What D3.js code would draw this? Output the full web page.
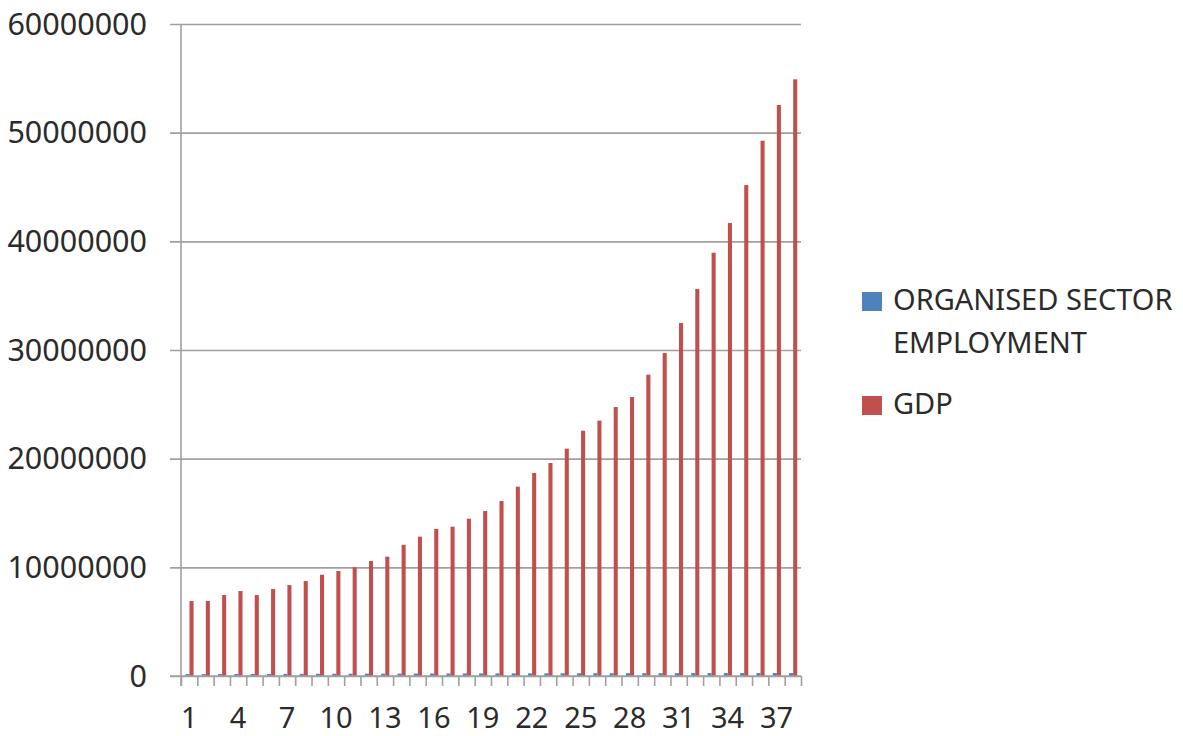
<!DOCTYPE html>
<html>
<head>
<meta charset="utf-8">
<script src="https://cdn.jsdelivr.net/npm/d3@7"></script>
<style>
  body { margin: 0; background: #fff; }
  text { font-family: "Noto Sans", "Open Sans", sans-serif; fill: #2b2b2b; }
  .grid line { stroke: #a0a0a0; stroke-width: 1.6; }
</style>
</head>
<body>
<div id="viz"></div>
<script>
// categories 1..38
var categories = d3.range(1, 39);

var seriesNames = ['ORGANISED SECTOR EMPLOYMENT', 'GDP'];

var employment = [
  170000, 174000, 178000, 182000, 186000, 190000, 194000, 198000, 202000, 206000,
  210000, 214000, 218000, 222000, 225000, 228000, 231000, 234000, 237000, 240000,
  242000, 245000, 247000, 249000, 251000, 253000, 255000, 257000, 258000, 259000,
  261000, 263000, 264000, 266000, 268000, 270000, 272000, 274000
];

var gdp = [
  6900000, 6900000, 7450000, 7820000, 7450000, 8000000, 8370000, 8740000, 9320000, 9660000,
  10000000, 10580000, 10980000, 12070000, 12820000, 13530000, 13740000, 14480000, 15180000, 16100000,
  17420000, 18680000, 19600000, 20920000, 22570000, 23500000, 24750000, 25670000, 27730000, 29720000,
  32480000, 35610000, 38950000, 41690000, 45180000, 49260000, 52550000, 54910000
];

var yTicks = [0, 10000000, 20000000, 30000000, 40000000, 50000000, 60000000];
var xLabels = [1, 4, 7, 10, 13, 16, 19, 22, 25, 28, 31, 34, 37];

var colors = ['#4f81bd', '#c0504d'];

var width = 1183, height = 736;
var margin = {top: 24, left: 181, right: 382, bottom: 60};
var plotW = width - margin.left - margin.right,
    plotH = height - margin.top - margin.bottom;

var svg = d3.select('#viz').append('svg')
    .attr('width', width)
    .attr('height', height);

var g = svg.append('g')
    .attr('transform', 'translate(' + margin.left + ',' + margin.top + ')');

var y = d3.scaleLinear().domain([0, 60000000]).range([plotH, 0]);

var x0 = d3.scaleBand().domain(categories).range([0, plotW]).padding(0);
var x1 = d3.scaleBand().domain([0, 1])
    .range([x0.bandwidth() * 0.27, x0.bandwidth() * 0.77]).padding(0);

// horizontal gridlines with ticks sticking out left
g.append('g')
    .attr('class', 'grid')
    .call(d3.axisLeft(y).tickValues(yTicks).tickSize(-plotW).tickFormat(''))
    .call(function(a) { a.select('.domain').remove(); })
    .selectAll('.tick line')
    .attr('x1', -11);

// y labels
g.append('g')
    .selectAll('text')
    .data(yTicks)
    .enter().append('text')
    .attr('x', -34)
    .attr('y', function(d) { return y(d); })
    .attr('dy', '0.35em')
    .attr('text-anchor', 'end')
    .style('font-size', '30.5px')
    .text(function(d) { return d; });

// bars
var groups = g.append('g').selectAll('g')
    .data(categories)
    .enter().append('g')
    .attr('transform', function(d) { return 'translate(' + x0(d) + ',0)'; });

groups.selectAll('rect')
    .data(function(d, i) { return [employment[i], gdp[i]]; })
    .enter().append('rect')
    .attr('x', function(d, j) { return x1(j); })
    .attr('width', x1.bandwidth())
    .attr('y', function(d) { return y(d); })
    .attr('height', function(d) { return plotH - y(d); })
    .attr('fill', function(d, j) { return colors[j]; });

// category boundary ticks along the x axis
var xEdge = d3.scaleLinear().domain([0, categories.length]).range([0, plotW]);
var xAxis = g.append('g')
    .attr('class', 'grid')
    .attr('transform', 'translate(0,' + plotH + ')')
    .call(d3.axisBottom(xEdge).tickValues(d3.range(0, categories.length + 1)).tickSize(10).tickFormat(''));
xAxis.select('.domain').remove();
xAxis.append('line')
    .attr('x1', -11).attr('x2', plotW)
    .attr('y1', 0).attr('y2', 0);

// y axis line
g.append('line')
    .attr('x1', 0).attr('x2', 0)
    .attr('y1', 0).attr('y2', plotH + 10)
    .attr('stroke', '#a0a0a0')
    .attr('stroke-width', 1.6);

// x labels every third category
g.append('g')
    .selectAll('text')
    .data(xLabels)
    .enter().append('text')
    .attr('x', function(d) { return x0(d) + x0.bandwidth() / 2; })
    .attr('y', plotH + 52)
    .attr('text-anchor', 'middle')
    .style('font-size', '29px')
    .text(function(d) { return d; });

// legend
var legend = svg.append('g').attr('transform', 'translate(862,0)');
var legendItems = [
  {color: colors[0], lines: ['ORGANISED SECTOR', 'EMPLOYMENT'], top: 292},
  {color: colors[1], lines: ['GDP'], top: 396}
];
legendItems.forEach(function(item) {
  legend.append('rect')
    .attr('x', 0).attr('y', item.top)
    .attr('width', 20).attr('height', 19)
    .attr('fill', item.color);
  item.lines.forEach(function(t, k) {
    legend.append('text')
      .attr('x', 31)
      .attr('y', item.top + 18 + k * 43)
      .style('font-size', '29px')
      .text(t);
  });
});
</script>
</body>
</html>
